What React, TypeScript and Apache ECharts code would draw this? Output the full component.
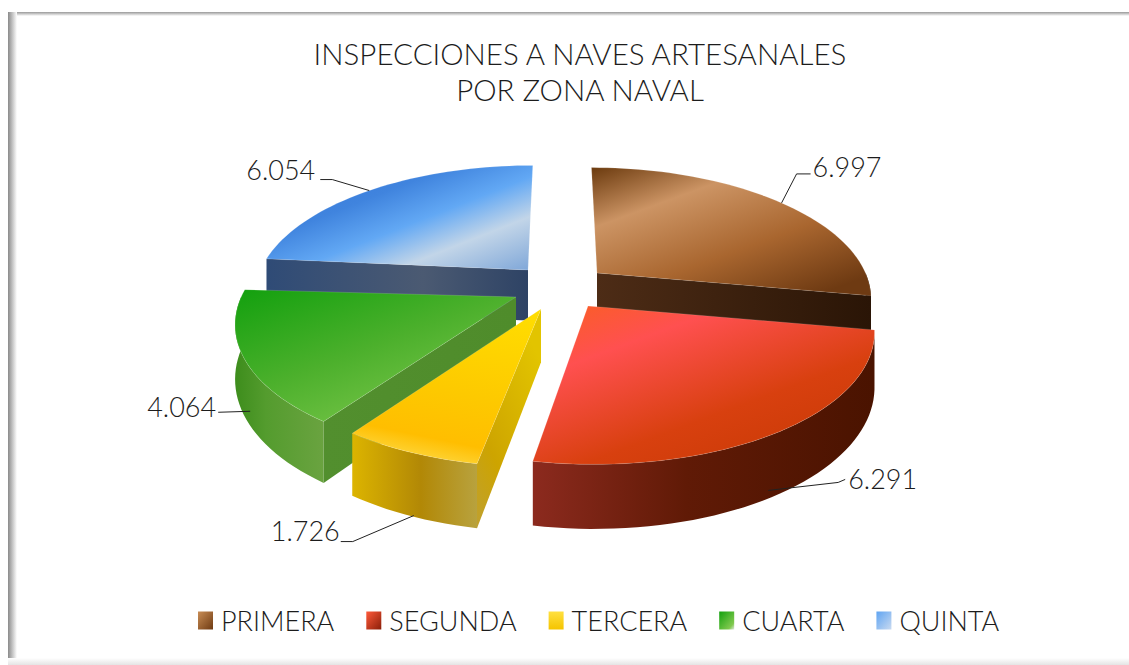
import React, { useEffect, useRef } from "react";
import * as echarts from "echarts";

const categories = ["PRIMERA", "SEGUNDA", "TERCERA", "CUARTA", "QUINTA"];
const values = [6997, 6291, 1726, 4064, 6054];
const valueLabels = ["6.997", "6.291", "1.726", "4.064", "6.054"];
const titleLines = ["INSPECCIONES A NAVES ARTESANALES", "POR ZONA NAVAL"];

const FONT = "Lato";
const WEIGHT = 300;
const LG = (x0: number, y0: number, x1: number, y1: number, stops: [number, string][]) =>
  new echarts.graphic.LinearGradient(x0, y0, x1, y1, stops.map(([offset, color]) => ({ offset, color })));

// projection of the tilted pie plane
const CX = 560, CY = 290, RX = 275, RY = 130, P = 0.18, DEPTH = 52;
const depthOf = (Y: number) => 1 / (1 - P * Y);
const project = (X: number, Y: number, z = 0) => {
  const d = depthOf(Y);
  return [CX + X * RX * d, CY + Y * RY * d + z * DEPTH * d];
};
const unproject = (sx: number, sy: number) => {
  const yy = (sy - CY) / RY;
  const Y = yy / (1 + P * yy);
  const X = (sx - CX) / (RX * depthOf(Y));
  return [X, Y];
};

// per-slice look: apex on screen, radii, angle nudge, paints, leader layout
const looks = [
  {
    apex: [597, 273], rx: 1, ry: 1, nudge: 0, order: 2,
    top: LG(0, 0, 0.8, 1, [[0, "#6b3a0e"], [0.29, "#cc9464"], [0.65, "#a9662f"], [1, "#6e3a12"]]),
    outer: "#2a1506",
    radial: LG(0, 0, 1, 0, [[0, "#4d2c16"], [1, "#2a1506"]]),
    legend: LG(0, 0, 1, 1, [[0, "#c98d55"], [1, "#6e3a12"]]),
    labelAt: 0.51, labelZ: 0, elbow: [[15, -29], [29, -29]], text: [31, -36],
  },
  {
    apex: [588, 306], rx: 1, ry: 0.96, nudge: 0, order: 5,
    top: LG(0, 0, 0.8, 1, [[0, "#f9601f"], [0.28, "#ff5050"], [0.68, "#d8400f"], [1, "#c93a05"]]),
    outer: LG(0, 0, 1, 0, [[0, "#8c2a1e"], [0.45, "#601a06"], [1, "#4a1300"]]),
    radial: LG(0, 0, 1, 0, [[0, "#6a1c08"], [1, "#4a1300"]]),
    legend: LG(0, 0, 1, 1, [[0, "#ff5a3a"], [1, "#8a1e08"]]),
    labelAt: 0.53, labelZ: 0.87, elbow: [[70, -8], [77, -11]], text: [80, -12],
  },
  {
    apex: [541, 309], rx: 0.98, ry: 0.95, nudge: 0, order: 4,
    top: LG(0.7, 0, 0.45, 1, [[0, "#ffdc00"], [0.55, "#fdc900"], [0.85, "#ffbe00"], [1, "#fdd63c"]]),
    outer: LG(0, 0, 1, 0, [[0, "#dcb400"], [0.55, "#b28806"], [1, "#b8a23e"]]),
    radial: LG(0, 1, 0.6, 0, [[0, "#bfa030"], [0.35, "#cda400"], [1, "#e2c400"]]),
    legend: LG(0, 0, 0, 1, [[0, "#ffe040"], [1, "#f5c400"]]),
    labelAt: 0.47, labelZ: 0.98, elbow: [[-61, 26], [-73, 26]], text: [-143, 15],
  },
  {
    apex: [516, 297], rx: 0.99, ry: 0.98, nudge: 0, order: 3,
    top: LG(0, 0, 0.8, 1, [[0, "#12a00e"], [0.5, "#4cb02c"], [1, "#80c94e"]]),
    outer: LG(0, 0, 1, 0, [[0, "#3d8d1c"], [0.35, "#549c2e"], [1, "#6aa340"]]),
    radial: LG(0, 0, 1, 0, [[0, "#528f2e"], [1, "#4f8c2b"]]),
    legend: LG(0, 0, 1, 1, [[0, "#12a00e"], [0.8, "#80c94e"], [1, "#dde8dd"]]),
    labelAt: 0.43, labelZ: 0.75, elbow: [[-32, 1], [-32, 1]], text: [-103, -5],
  },
  {
    apex: [528, 270], rx: 1, ry: 1, nudge: 2, order: 1,
    top: LG(0, 0, 1, 1, [[0, "#2f70d8"], [0.35, "#4084de"], [0.55, "#62a8f4"], [0.74, "#c2d5e8"], [1, "#7ea6d8"]]),
    outer: "#2f4a72",
    radial: LG(0, 0, 1, 0, [[0, "#2f4b76"], [0.6, "#4b5a72"], [1, "#2e4365"]]),
    legend: LG(0, 0, 1, 1, [[0, "#5fa4f2"], [1, "#c9daf0"]]),
    labelAt: 0.49, labelZ: 0, elbow: [[-37, -11], [-49, -11]], text: [-123, -21],
  },
];

const total = values.reduce((a, b) => a + b, 0);
const starts: number[] = [];
values.reduce((acc, v, i) => {
  starts[i] = acc;
  return acc + (v / total) * 360;
}, 0);

const rad = (deg: number) => (deg * Math.PI) / 180;

function renderSlice(i: number) {
  const look = looks[i];
  const a0 = starts[i] + look.nudge;
  const a1 = starts[i] + (values[i] / total) * 360;
  const [ax, ay] = unproject(look.apex[0], look.apex[1]);
  const rim = (deg: number, z = 0) =>
    project(ax + look.rx * Math.sin(rad(deg)), ay - look.ry * Math.cos(rad(deg)), z);
  const apexAt = (z: number) => project(ax, ay, z);
  const arc = (from: number, to: number, z = 0) => {
    const pts: number[][] = [];
    const n = Math.max(2, Math.ceil(Math.abs(to - from) / 2));
    for (let k = 0; k <= n; k++) pts.push(rim(from + ((to - from) * k) / n, z));
    return pts;
  };
  const children: any[] = [];
  const face = (points: number[][], fill: any) =>
    children.push({ type: "polygon", shape: { points }, style: { fill } });
  // outer curved wall
  const w0 = Math.max(a0, 90), w1 = Math.min(a1, 270);
  if (w1 > w0) {
    face([...arc(w0, w1), ...arc(w1, w0, 1)], look.outer);
  }
  // radial walls that face the viewer
  if (Math.sin(rad(a0)) < 0) {
    face([apexAt(0), rim(a0), rim(a0, 1), apexAt(1)], look.radial);
  }
  if (Math.sin(rad(a1)) > 0) {
    face([apexAt(0), rim(a1), rim(a1, 1), apexAt(1)], look.radial);
  }
  // top face
  children.push({
    type: "polygon",
    shape: { points: [apexAt(0), ...arc(a0, a1)] },
    style: { fill: look.top, stroke: "rgba(255,255,255,0.18)", lineWidth: 0.8 },
  });
  // leader line and value label
  const anchor = rim(a0 + (a1 - a0) * look.labelAt, look.labelZ);
  children.push({
    type: "polyline",
    shape: { points: [anchor, ...look.elbow.map(([dx, dy]) => [anchor[0] + dx, anchor[1] + dy])] },
    style: { stroke: "#222", lineWidth: 1, fill: "none" },
  });
  children.push({
    type: "text",
    x: anchor[0] + look.text[0],
    y: anchor[1] + look.text[1],
    style: {
      text: valueLabels[i],
      fontFamily: FONT,
      fontWeight: WEIGHT,
      fontSize: 27,
      fill: "#1c1c1c",
      verticalAlign: "middle",
    },
  });
  return { type: "group", children };
}

export default function App() {
  const ref = useRef<HTMLDivElement>(null);
  useEffect(() => {
    if (!ref.current) return;
    const chart = echarts.init(ref.current, undefined, { renderer: "svg" });
    chart.setOption({
      animation: false,
      backgroundColor: "#ffffff",
      title: {
        text: titleLines.join("\n"),
        left: 575,
        top: 30,
        textAlign: "center",
        textStyle: { fontFamily: FONT, fontSize: 29.5, fontWeight: WEIGHT, color: "#1c1c1c", lineHeight: 36 },
      },
      legend: {
        data: categories,
        left: 193,
        top: 602,
        icon: "rect",
        itemWidth: 15,
        itemHeight: 18,
        itemGap: 32,
        textStyle: { fontFamily: FONT, fontSize: 27, fontWeight: WEIGHT, color: "#1c1c1c", padding: [0, 0, 0, 3] },
      },
      graphic: {
        elements: [
          { type: "rect", z: -10, shape: { x: 8, y: 12, width: 1121, height: 4 }, style: { fill: LG(0, 0, 0, 1, [[0, "#999"], [1, "#fff"]]) } },
          { type: "rect", z: -9, shape: { x: 8, y: 12, width: 9, height: 653 }, style: { fill: LG(0, 0, 1, 0, [[0, "#8a8a8a"], [1, "#fff"]]) } },
          { type: "rect", z: -8, shape: { x: 8, y: 658, width: 1121, height: 7 }, style: { fill: LG(0, 0, 0, 1, [[0, "#fff"], [1, "#e4e4e4"]]) } },
        ],
      },
      series: categories.map((name, i) => ({
        type: "custom",
        name,
        coordinateSystem: "none",
        z: 2 + looks[i].order,
        itemStyle: { color: looks[i].legend },
        data: [values[i]],
        clip: false,
        renderItem: () => renderSlice(i),
      })),
    });
    return () => chart.dispose();
  }, []);
  return <div ref={ref} style={{ position: "absolute", left: 0, top: 0, width: 1129, height: 665 }} />;
}
